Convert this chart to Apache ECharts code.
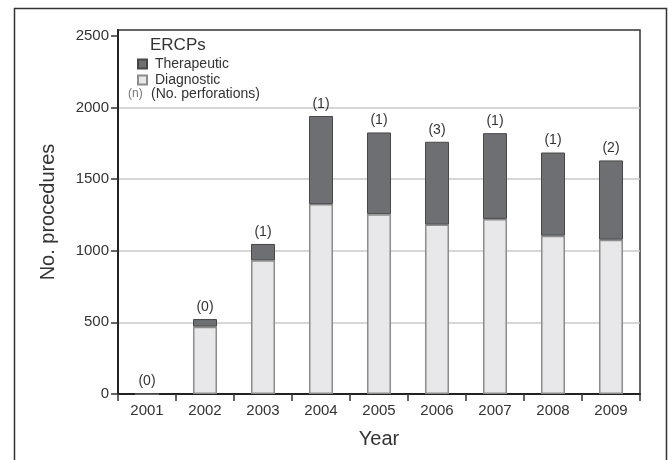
<!DOCTYPE html>
<html>
<head>
<meta charset="utf-8">
<script src="https://cdn.jsdelivr.net/npm/echarts@6/dist/echarts.min.js"></script>
<style>
html,body{margin:0;padding:0;background:#fff;}
#chart{width:669px;height:460px;}
</style>
</head>
<body>
<div id="chart"></div>
<script>
var years = ['2001','2002','2003','2004','2005','2006','2007','2008','2009'];
var diagnostic = [0, 470, 933, 1325, 1255, 1182, 1222, 1105, 1077];
var therapeutic = [5, 53, 114, 615, 570, 578, 598, 580, 553];
var perforations = [0, 0, 1, 1, 1, 3, 1, 1, 2];
var yTicks = [0, 500, 1000, 1500, 2000, 2500];

var FONT = 'Liberation Sans, Arial, sans-serif';
var chart = echarts.init(document.getElementById('chart'), null, {renderer: 'canvas'});
var grid = '#c9c9c9';
chart.setOption({
  animation: false,
  textStyle: {fontFamily: FONT},
  grid: {left: 118, right: 29, top: 30, bottom: 66, show: true, borderColor: '#333', borderWidth: 1.5, containLabel: false},
  legend: {
    orient: 'vertical', left: 132, top: 52,
    icon: 'rect',
    itemWidth: 9, itemHeight: 9, itemGap: 2,
    data: ['Therapeutic', 'Diagnostic'],
    textStyle: {fontSize: 14, color: '#333', fontFamily: FONT, lineHeight: 14, padding: [0, 0, 0, 3]}
  },
  xAxis: {
    type: 'category', data: years,
    name: 'Year', nameLocation: 'middle', nameGap: 35,
    nameTextStyle: {fontSize: 20, color: '#333', fontFamily: FONT},
    axisLine: {lineStyle: {color: '#222', width: 2}},
    axisTick: {show: true, interval: 0, alignWithLabel: false, length: 7, lineStyle: {color: '#333', width: 1.5}},
    axisLabel: {fontSize: 15, color: '#333', margin: 9, fontFamily: FONT}
  },
  yAxis: {
    type: 'value', min: yTicks[0], max: 2540, interval: 500,
    name: 'No. procedures', nameLocation: 'middle', nameGap: 60,
    nameTextStyle: {fontSize: 20, color: '#333', fontFamily: FONT},
    axisLine: {show: true, lineStyle: {color: '#222', width: 2}},
    axisTick: {show: true, length: 7, lineStyle: {color: '#333', width: 1.5}},
    axisLabel: {fontSize: 15, color: '#333', margin: 9, showMaxLabel: false, fontFamily: FONT,
      formatter: function (v) { return yTicks.indexOf(v) >= 0 ? String(v) : ''; }},
    splitLine: {show: true, lineStyle: {color: ['transparent', grid, grid, grid, grid, 'transparent', 'transparent'], width: 1.5}}
  },
  series: [
    {
      name: 'Diagnostic', type: 'bar', stack: 'total', data: diagnostic, barWidth: 24,
      itemStyle: {color: '#e8e8ea', borderColor: '#8c8c8c', borderWidth: 1.5}
    },
    {
      name: 'Therapeutic', type: 'bar', stack: 'total', data: therapeutic, barWidth: 24,
      itemStyle: {color: '#6e6f73', borderColor: '#474747', borderWidth: 1},
      label: {
        show: true, position: 'top', distance: 5, fontSize: 14, color: '#333', fontFamily: FONT,
        formatter: function (p) { return '(' + perforations[p.dataIndex] + ')'; }
      }
    }
  ],
  graphic: [
    {type: 'rect', shape: {x: 14.5, y: 8.5, width: 652, height: 480}, style: {fill: 'none', stroke: '#333', lineWidth: 1.5}, silent: true},
    {type: 'text', left: 150, top: 37, style: {text: 'ERCPs', font: '17px ' + FONT, fill: '#333'}},
    {type: 'text', left: 128, top: 88, style: {text: '(n)', font: '12px ' + FONT, fill: '#777'}},
    {type: 'text', left: 151, top: 87, style: {text: '(No. perforations)', font: '14px ' + FONT, fill: '#333'}}
  ]
});
</script>
</body>
</html>
